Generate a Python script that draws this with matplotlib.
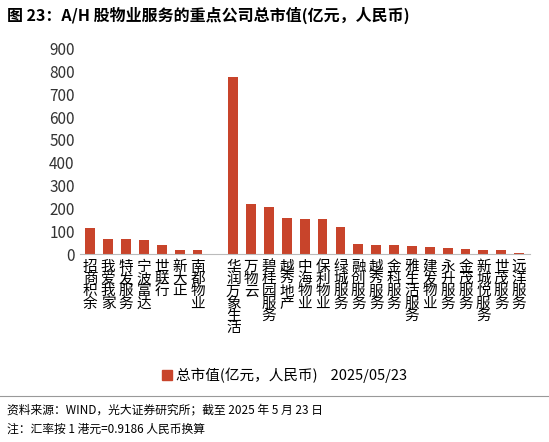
import matplotlib
matplotlib.use("Agg")
import matplotlib.pyplot as plt

plt.rcParams['font.family'] = ['Noto Sans CJK SC', 'DejaVu Sans']

categories = ["招商积余", "我爱我家", "特发服务", "宁波富达", "世联行", "新大正", "南都物业", "",
              "华润万象生活", "万物云", "碧桂园服务", "越秀地产", "中海物业", "保利物业", "绿城服务",
              "融创服务", "越秀服务", "金科服务", "雅生活服务", "建发物业", "永升服务", "金茂服务",
              "新城悦服务", "世茂服务", "远洋服务"]
values = [115, 68, 67, 62, 40, 20, 18, 0,
          775, 220, 205, 160, 155, 155, 120,
          45, 38, 38, 35, 33, 28, 22, 20, 17, 5]
yticks = list(range(0, 1000, 100))
color = "#C8442B"

fig = plt.figure(figsize=(5.49, 4.42), dpi=100)
ax = fig.add_axes([0.145, 0.425, 0.82, 0.465])
x = list(range(len(categories)))
ax.bar(x, values, width=0.55, color=color)
ax.set_ylim(0, 900)
ax.set_yticks(yticks)
ax.tick_params(axis='y', length=0, labelsize=11, colors='#333333')
ax.set_xticks(x)
ax.set_xticklabels(["\n".join(c) for c in categories], fontsize=10.5, va='top', linespacing=0.85)
ax.tick_params(axis='x', length=0, pad=4)
ax.set_xlim(-0.6, len(categories) - 0.4)
for s in ['top', 'right', 'left']:
    ax.spines[s].set_visible(False)
ax.spines['bottom'].set_color('#bbbbbb')

fig.text(0.012, 0.965, "图 23：A/H 股物业服务的重点公司总市值(亿元，人民币)", fontsize=11.5, fontweight='bold', va='center')
fig.patches.append(plt.Rectangle((0.295, 0.14), 0.018, 0.022, transform=fig.transFigure, color=color))
fig.text(0.32, 0.151, "总市值(亿元，人民币)    2025/05/23", fontsize=10.5, va='center')
fig.add_artist(plt.Line2D([0.0, 1.0], [0.105, 0.105], color='#999999', lw=0.8))
fig.text(0.012, 0.072, "资料来源：WIND，光大证券研究所；截至 2025 年 5 月 23 日", fontsize=8.5, va='center')
fig.text(0.012, 0.028, "注：汇率按 1 港元=0.9186 人民币换算", fontsize=8.5, va='center')

fig.savefig("out.png", dpi=100)
